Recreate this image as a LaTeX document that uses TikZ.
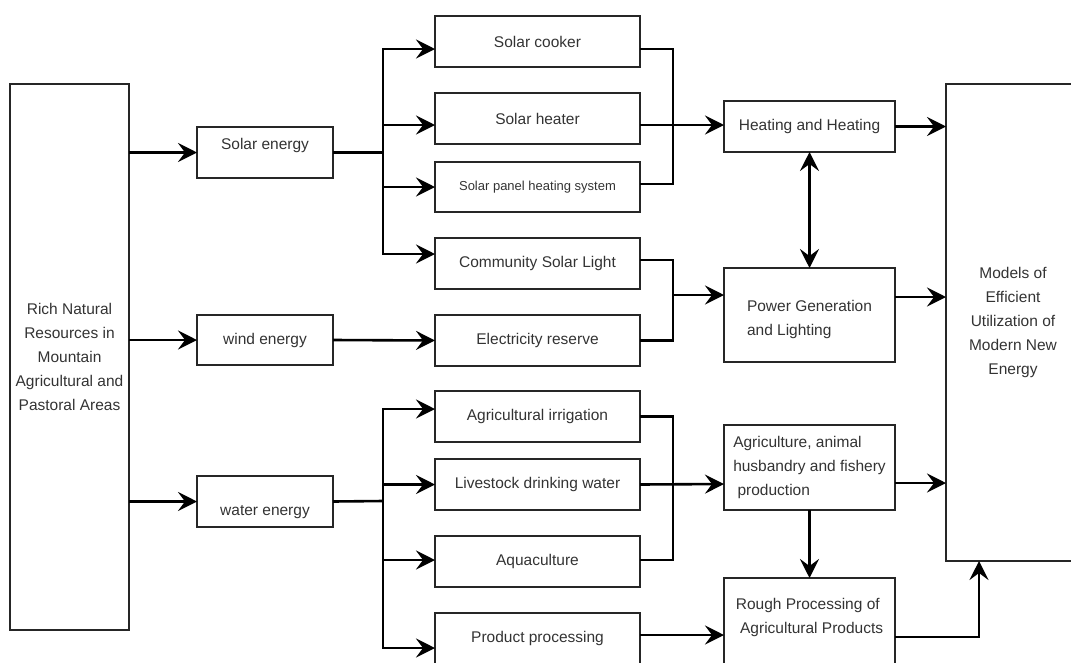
\documentclass[tikz,border=0pt]{standalone}
\usepackage{fontspec}
\setmainfont{Liberation Sans}
\usetikzlibrary{arrows.meta}
\newcommand{\shiftup}[2]{\raisebox{#1}[\height][\depth]{#2}}

\begin{document}
\begin{tikzpicture}[x=1pt, y=-1pt,
  box/.style={draw=black!85, line width=1.3pt, anchor=north west, inner sep=0pt, outer sep=0pt,
    text=black!80, font=\fontsize{15.5}{24}\selectfont, align=center},
  mid/.style={box, minimum width=205pt, minimum height=51pt},
  res/.style={box, minimum width=171pt},
  link/.style={line width=2.6pt},
  arr/.style={link, -{Stealth[length=19pt, width=19pt, inset=7pt]}},
  dbl/.style={link, {Stealth[length=19pt, width=19pt, inset=7pt]}-{Stealth[length=19pt, width=19pt, inset=7pt]}}]

  \useasboundingbox (0,0) rectangle (1071,662);
  \clip (0,0) rectangle (1071,662);

  % sources
  \path
  (10,84) node[box, minimum width=119pt, minimum height=546pt] (rich) {Rich Natural\\Resources in\\Mountain\\Agricultural and\\Pastoral Areas}
  (197,127) node[box, minimum width=136pt, minimum height=51pt] (solar) {\shiftup{7.5pt}{Solar energy}}
  (197,315) node[box, minimum width=136pt, minimum height=50pt] (wind) {wind energy}
  (197,476) node[box, minimum width=136pt, minimum height=51pt] (water) {\shiftup{-10.5pt}{water energy}}
  ;

  % uses
  \path
  (435,16) node[mid] (cooker) {Solar cooker}
  (435,93) node[mid] (heater) {Solar heater}
  (435,162) node[mid, minimum height=50pt, font=\fontsize{13}{16}\selectfont] (panel) {Solar panel heating system}
  (435,238) node[mid] (community) {Community Solar Light}
  (435,315) node[mid] (reserve) {Electricity reserve}
  (435,391) node[mid] (irrigation) {Agricultural irrigation}
  (435,459) node[mid] (livestock) {Livestock drinking water}
  (435,536) node[mid] (aqua) {Aquaculture}
  (435,613) node[mid] (product) {Product processing}
  ;

  % results
  \path
  (724,101) node[res, minimum height=51pt] (heat) {Heating and Heating}
  (724,268) node[res, minimum height=94pt] (power) {\shiftup{-4pt}{\begin{tabular}{@{}l@{}}Power Generation\\and Lighting\end{tabular}}}
  (724,425) node[res, minimum height=85pt, align=left] (agri) {Agriculture, animal\\husbandry and fishery\\\ production}
  (724,578) node[res, minimum height=94pt] (rough) {\shiftup{8.5pt}{\begin{tabular}{@{}l@{}}Rough Processing of\\\ Agricultural Products\end{tabular}}}
  (946,84) node[box, minimum width=134pt, minimum height=477pt] (models) {Models of\\Efficient\\Utilization of\\Modern New\\Energy}
  ;

  % resources to energy kinds
  \draw[arr] (solar.west -| rich.east) -- (solar.west);
  \draw[arr] (wind.west -| rich.east) -- (wind.west);
  \draw[arr] (water.west -| rich.east) -- (water.west);

  % solar branches
  \coordinate (sbus) at (383,152.5);
  \draw[link] (solar.east) -- (sbus);
  \draw[arr] (sbus) |- ([yshift=-7.5pt]cooker.west);
  \draw[arr] (sbus) |- ([yshift=-6.5pt]heater.west);
  \draw[arr] (sbus) |- (panel.west);
  \draw[arr] (sbus) |- ([yshift=9.5pt]community.west);
  \draw[arr] (wind.east) -- (reserve.west);

  % water branches
  \coordinate (wbus) at (383,501);
  \draw[link] (water.east) -- (wbus);
  \draw[arr] (wbus) |- ([yshift=7.5pt]irrigation.west);
  \draw[arr] (wbus) |- (livestock.west);
  \draw[arr] (wbus) |- ([yshift=1.5pt]aqua.west);
  \draw[arr] (wbus) |- ([yshift=-9.5pt]product.west);

  % heating
  \coordinate (hbus) at (673,125);
  \draw[link] ([yshift=-7.5pt]cooker.east) -| (hbus);
  \draw[link] ([yshift=3pt]panel.east) -| (hbus);
  \draw[arr] ([yshift=-6.5pt]heater.east) -- (hbus -| heat.west);

  % power
  \coordinate (pbus) at (673,295);
  \draw[link] ([yshift=3.5pt]community.east) -| (pbus);
  \draw[link] (reserve.east) -| (pbus);
  \draw[arr] (pbus) -- (pbus -| power.west);
  \draw[dbl] (heat.south) -- (power.north);

  % agriculture
  \coordinate (abus) at (673,484);
  \draw[link] (irrigation.east) -| (abus);
  \draw[link] ([yshift=1.5pt]aqua.east) -| (abus);
  \draw[arr] (livestock.east) -- (abus -| agri.west);
  \draw[arr] (agri.south) -- (rough.north);
  \draw[arr] ([yshift=3.5pt]product.east) -- ([yshift=3.5pt]product.east -| rough.west);

  % to models
  \draw[arr] (heat.east) -- (heat.east -| models.west);
  \draw[arr] ([yshift=18pt]power.east) -- ([yshift=18pt]power.east -| models.west);
  \draw[arr] ([yshift=-15.5pt]agri.east) -- ([yshift=-15.5pt]agri.east -| models.west);
  \draw[arr] ([yshift=-12pt]rough.east) -| ([xshift=-34pt]models.south);
\end{tikzpicture}
\end{document}
